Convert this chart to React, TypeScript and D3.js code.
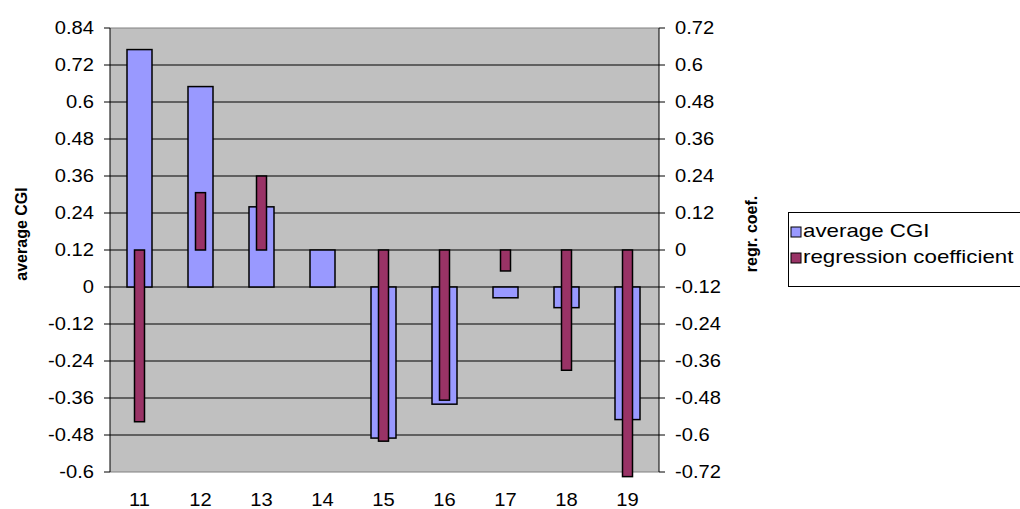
import React from "react";
import * as d3 from "d3";

const categories = ["11", "12", "13", "14", "15", "16", "17", "18", "19"];
const averageCGI = [0.77, 0.65, 0.26, 0.12, -0.49, -0.38, -0.035, -0.067, -0.43];
const regrCoef = [-0.557, 0.186, 0.24, 0, -0.62, -0.487, -0.068, -0.39, -0.735];
const leftTicks = [0.84, 0.72, 0.6, 0.48, 0.36, 0.24, 0.12, 0, -0.12, -0.24, -0.36, -0.48, -0.6];
const rightTicks = [0.72, 0.6, 0.48, 0.36, 0.24, 0.12, 0, -0.12, -0.24, -0.36, -0.48, -0.6, -0.72];
const seriesNames = ["average CGI", "regression coefficient"];
const colors = ["#9999FF", "#993366"];

export default function App() {
  const W = 1020, H = 509;
  const left = 110, right = 659, top = 28, bottom = 472;
  const x = d3.scaleBand<string>().domain(categories).range([left, right]).padding(0);
  const yL = d3.scaleLinear().domain([-0.6, 0.84]).range([bottom, top]);
  const yR = d3.scaleLinear().domain([-0.72, 0.72]).range([bottom, top]);
  const bw = x.bandwidth();
  const blueW = 25, redW = 10;
  const font = "'Liberation Sans', Arial, sans-serif";
  const fmt = (v: number) => (Math.abs(v) < 1e-9 ? "0" : String(+v.toFixed(2)));
  const sx = 1.12;

  return (
    <svg width={W} height={H} style={{ position: "absolute", left: 0, top: 0, background: "#fff" }} fontFamily={font}>
      <rect x={left} y={top} width={right - left} height={bottom - top} fill="#C0C0C0" />
      {leftTicks.map((t, i) => (
        <line key={"g" + i} x1={left} x2={right} y1={yL(t)} y2={yL(t)} stroke={i === 0 || i === leftTicks.length - 1 ? "#808080" : "#000"} strokeWidth={1} />
      ))}
      {averageCGI.map((v, i) => {
        const cx = x(categories[i])! + bw / 2 - 1;
        const y0 = yL(0), y1 = yL(v);
        return <rect key={"b" + i} x={cx - blueW / 2} y={Math.min(y0, y1)} width={blueW} height={Math.abs(y1 - y0)} fill={colors[0]} stroke="#000" strokeWidth={1.5} />;
      })}
      {regrCoef.map((v, i) => {
        if (v === 0) return null;
        const cx = x(categories[i])! + bw / 2 - 1;
        const y0 = yR(0), y1 = yR(v);
        return <rect key={"r" + i} x={cx - redW / 2} y={Math.min(y0, y1)} width={redW} height={Math.abs(y1 - y0)} fill={colors[1]} stroke="#000" strokeWidth={1.5} />;
      })}
      <line x1={left} x2={left} y1={top} y2={bottom} stroke="#000" strokeWidth={1} />
      <line x1={right} x2={right} y1={top} y2={bottom} stroke="#000" strokeWidth={1} />
      {leftTicks.map((t, i) => (
        <g key={"lt" + i}>
          <line x1={left - 6} x2={left} y1={yL(t)} y2={yL(t)} stroke="#000" />
          <text transform={`translate(94,${yL(t)}) scale(${sx},1)`} dy="0.36em" textAnchor="end" fontSize={18}>{fmt(t)}</text>
        </g>
      ))}
      {rightTicks.map((t, i) => (
        <g key={"rt" + i}>
          <line x1={right} x2={right + 6} y1={yR(t)} y2={yR(t)} stroke="#000" />
          <text transform={`translate(675,${yR(t)}) scale(${sx},1)`} dy="0.36em" textAnchor="start" fontSize={18}>{fmt(t)}</text>
        </g>
      ))}
      {categories.map((c) => (
        <text key={"c" + c} transform={`translate(${x(c)! + bw / 2 - 1},506) scale(${sx},1)`} textAnchor="middle" fontSize={18}>{c}</text>
      ))}
      <text transform="translate(27,234) rotate(-90)" textAnchor="middle" fontSize={16} fontWeight="bold">average CGI</text>
      <text transform="translate(757,234) rotate(-90)" textAnchor="middle" fontSize={16} fontWeight="bold">regr. coef.</text>
      <rect x={788.5} y={212.5} width={240} height={74} fill="#fff" stroke="#000" strokeWidth={1} />
      {seriesNames.map((n, i) => (
        <g key={"l" + i}>
          <rect x={791} y={227 + i * 26} width={10} height={10} fill={colors[i]} stroke="#000" strokeWidth={1} />
          <text transform={`translate(803,${237 + i * 26}) scale(1.24,1)`} fontSize={18}>{n}</text>
        </g>
      ))}
    </svg>
  );
}
